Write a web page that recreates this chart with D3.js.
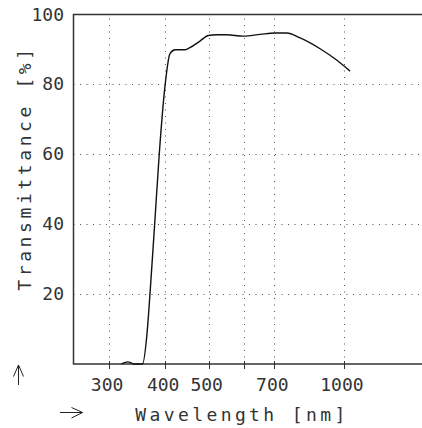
<!DOCTYPE html>
<html lang="en">
<head>
<meta charset="UTF-8">
<title>Transmittance</title>
<style>
    * { margin: 0; padding: 0; }
    body { background: #fff; }
    text { font-family: "DejaVu Sans Mono", monospace; fill: #333; }
</style>
</head>
<body>
<div id="container"></div>
<script src="https://cdn.jsdelivr.net/npm/d3@7/dist/d3.min.js"></script>
<script>
    "use strict";

    // curve
    var wavelength = [320, 325, 330, 335, 340, 356, 365, 370, 379, 388, 400, 410, 421, 443, 454, 478, 499, 521, 548, 597, 651, 703, 746, 799, 885, 965, 1032];
    var transmittance = [0, 0.4, 0.6, 0.4, 0, 0, 9.7, 20, 40, 60, 80, 88.8, 89.9, 89.9, 90.5, 92.4, 94, 94.2, 94.2, 93.8, 94.3, 94.7, 94.7, 93.3, 90.2, 86.9, 83.8];

    var xGrid = [300, 400, 500, 600, 700, 1000];
    var xLabels = [300, 400, 500, 700, 1000];
    var yGrid = [20, 40, 60, 80];
    var yLabels = [20, 40, 60, 80, 100];

    (function(){

        var width = 422, height = 428;
        var plotLeft = 73.5, plotRight = 423, plotTop = 14.5, plotBottom = 364;

        var svg = d3.select('#container')
            .append('svg')
            .attr('width', width)
            .attr('height', height);

        var x = d3.scaleLog().domain([250, 1500]).range([plotLeft, plotRight]);
        var y = d3.scaleLinear().domain([0, 100]).range([plotBottom, plotTop]);

        // dotted grid
        svg.append('g')
            .selectAll('line')
            .data(yGrid)
            .join('line')
            .attr('x1', plotLeft).attr('x2', width)
            .attr('y1', function(d){ return Math.round(y(d)) + 0.5; })
            .attr('y2', function(d){ return Math.round(y(d)) + 0.5; })
            .attr('stroke', '#555')
            .attr('stroke-dasharray', '1,5.5');

        svg.append('g')
            .selectAll('line')
            .data(xGrid)
            .join('line')
            .attr('x1', function(d){ return Math.round(x(d)) + 0.5; })
            .attr('x2', function(d){ return Math.round(x(d)) + 0.5; })
            .attr('y1', plotTop + 4).attr('y2', plotBottom)
            .attr('stroke', '#555')
            .attr('stroke-dasharray', '1,5.5');

        // frame: left, top, bottom
        svg.append('path')
            .attr('d', 'M' + width + ',' + plotTop + 'H' + plotLeft + 'V' + plotBottom + 'H' + width)
            .attr('fill', 'none')
            .attr('stroke', '#333')
            .attr('stroke-width', 1.5);

        // x ticks across the bottom line
        svg.append('g')
            .selectAll('line')
            .data(xGrid)
            .join('line')
            .attr('x1', function(d){ return Math.round(x(d)) + 0.5; })
            .attr('x2', function(d){ return Math.round(x(d)) + 0.5; })
            .attr('y1', plotBottom - 3).attr('y2', plotBottom + 5)
            .attr('stroke', '#333');

        svg.append('g')
            .selectAll('text')
            .data(xLabels)
            .join('text')
            .attr('x', function(d){ return x(d) - 2; })
            .attr('y', 391)
            .attr('text-anchor', 'middle')
            .style('font-size', '18px')
            .text(function(d){ return d; });

        svg.append('g')
            .selectAll('text')
            .data(yLabels)
            .join('text')
            .attr('x', 64)
            .attr('y', function(d){ return y(d) + 6; })
            .attr('text-anchor', 'end')
            .style('font-size', '18px')
            .text(function(d){ return d; });

        // the curve
        var points = wavelength.map(function(w, i){ return [w, transmittance[i]]; });
        var line = d3.line()
            .x(function(d){ return x(d[0]); })
            .y(function(d){ return y(d[1]); })
            .curve(d3.curveMonotoneX);

        svg.append('path')
            .datum(points)
            .attr('d', line)
            .attr('fill', 'none')
            .attr('stroke', '#111')
            .attr('stroke-width', 1.4);

        // axis titles
        svg.append('text')
            .attr('x', 242)
            .attr('y', 421)
            .attr('text-anchor', 'middle')
            .style('font-size', '18px')
            .style('letter-spacing', '3.4px')
            .text('Wavelength [nm]');

        svg.append('text')
            .attr('transform', 'translate(31,168) rotate(-90)')
            .attr('text-anchor', 'middle')
            .style('font-size', '18px')
            .style('letter-spacing', '3.6px')
            .text('Transmittance [%]');

        // arrows
        svg.append('path')
            .attr('d', 'M18.5,385V365M13.5,376.5L18.5,365L23.5,376.5')
            .attr('fill', 'none')
            .attr('stroke', '#222');

        svg.append('path')
            .attr('d', 'M60,412.5H82.5M71.5,407.5L82.5,412.5L71.5,418')
            .attr('fill', 'none')
            .attr('stroke', '#222');

    })();
</script>
</body>
</html>
